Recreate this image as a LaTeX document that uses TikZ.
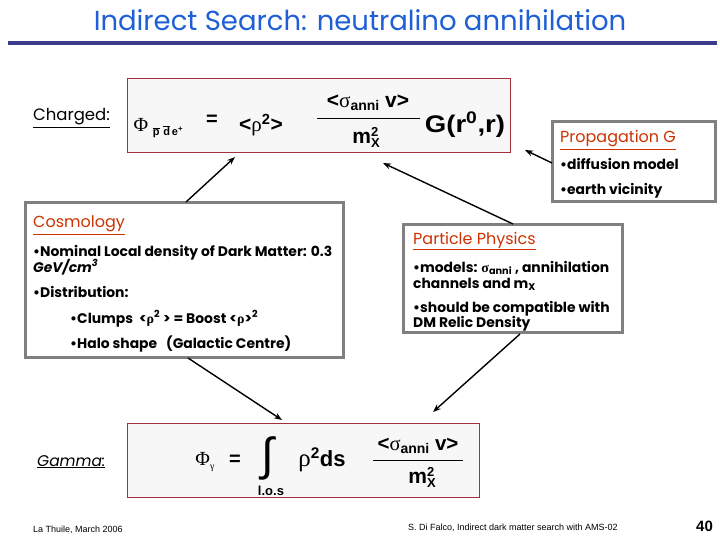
\documentclass[tikz,border=0pt]{standalone}
\usepackage{fontspec}
\usetikzlibrary{arrows.meta}
\setmainfont{Poppins}
\newfontfamily\fa{Liberation Sans}
\newfontfamily\fg{Liberation Serif}
\definecolor{titleblue}{RGB}{30,95,215}
\definecolor{rulecol}{RGB}{60,60,140}
\definecolor{headred}{RGB}{204,51,0}
\definecolor{fred}{RGB}{160,50,60}
\definecolor{boxgray}{RGB}{128,128,128}
\newcommand{\fs}[1]{\fontsize{#1}{#1}\selectfont}
\begin{document}
\begin{tikzpicture}[x=1pt,y=-1pt,
  txt/.style={anchor=base west,inner sep=0pt,font=\bfseries\fs{13.9}},
  head/.style={anchor=base west,inner sep=0pt,text=headred,font=\fs{16}},
  gbox/.style={draw=boxgray,line width=3pt,fill=white,inner sep=0pt},
  fbox/.style={draw=fred,line width=0.8pt,fill=black!3,inner sep=0pt},
  fm/.style={inner sep=0pt,font=\fa\bfseries\fs{20}},
  arr/.style={-{Stealth[length=8pt,width=6pt]},line width=1.4pt}]
\useasboundingbox (0,0) rectangle (720,540);
\fill[white] (0,0) rectangle (720,540);
% title
\node[inner sep=0pt,text=titleblue,font=\fs{27.5}] (title) at (360,20) {Indirect Search: neutralino annihilation};
\draw[rulecol,line width=4pt] (8,43) -- (717,43);
% boxes
\node[fbox,minimum width=383pt,minimum height=74pt] (chg) at (318.5,115) {};
\node[gbox,minimum width=163pt,minimum height=80pt] (prop) at (633.5,162) {};
\node[gbox,minimum width=318pt,minimum height=154pt] (cosmo) at (184,280) {};
\node[gbox,minimum width=219pt,minimum height=107pt] (part) at (512.5,278.5) {};
\node[fbox,minimum width=352pt,minimum height=74pt] (gam) at (303,460) {};
% labels
\node[anchor=base west,inner sep=0pt,font=\fs{16.5}] (lchg) at (33,121) {\underline{Charged:}};
\node[anchor=base west,inner sep=0pt,font=\itshape\fs{15.5}] (lgam) at (37,466) {\underline{Gamma:}};
% charged formula
\node[inner sep=0pt,font=\fg\fs{20}] (phi1) at (141,125) {Φ};
\node[inner sep=0pt,font=\fa\bfseries\fs{11}] (sub1) at (168,132) {$\overline{\hbox{p}}$\,\,$\overline{\hbox{d}}$\,e\textsuperscript{+}};
\node[fm] (eq1) at (212,120) {=};
\node[fm,font=\fa\bfseries\fs{21}] (rho1) at (261,125) {<{\fg\mdseries ρ}\textsuperscript{2}>};
\node[fm,font=\fa\bfseries\fs{21}] (num1) at (368,103) {<{\fg\mdseries σ}\raisebox{-3pt}{\fs{14}anni} v>};
\node[fm,font=\fa\bfseries\fs{21}] (den1) at (366,137) {m\rlap{\raisebox{7pt}{\fs{13}2}}\raisebox{-4pt}{\fs{13}X}};
\node[fm,font=\fa\bfseries\fs{24}] (g1) at (465,125) {\scalebox{1.15}[1]{G(r\textsuperscript{0},r)}};
\draw[line width=1pt] (317,119) -- (420,119);
% gamma formula
\node[inner sep=0pt,font=\fg\fs{20}] (phi2) at (205,462) {Φ\raisebox{-4pt}{\fs{10}γ}};
\node[fm] (eq2) at (235,460) {=};
\node[inner sep=0pt,font=\fa\fs{46}] (int2) at (268,458) {∫};
\node[fm,font=\fa\bfseries\fs{13}] (los) at (271,491) {l.o.s};
\node[fm,font=\fa\bfseries\fs{22}] (rho2) at (322,460) {{\fg\mdseries\fs{25}ρ}\textsuperscript{2}ds};
\node[fm,font=\fa\bfseries\fs{20.5}] (num2) at (418,446) {<{\fg\mdseries σ}\raisebox{-3pt}{\fs{14}anni} v>};
\draw[line width=1pt] (373,460) -- (463,460);
\node[fm,font=\fa\bfseries\fs{21}] (den2) at (422,477) {m\rlap{\raisebox{7pt}{\fs{13}2}}\raisebox{-4pt}{\fs{13}X}};
% propagation
\node[head] (hprop) at (560,143) {\underline{Propagation G}};
\node[txt] (p1) at (560,170) {•diffusion model};
\node[txt] (p2) at (560,195) {•earth vicinity};
% cosmology
\node[head] (hcos) at (33,228) {\underline{Cosmology}};
\node[txt] (c1) at (33,256) {•Nominal Local density of Dark Matter: 0.3};
\node[txt] (c2) at (33,272) {\itshape GeV/cm\textsuperscript{3}};
\node[txt] (c3) at (33,297) {•Distribution:};
\node[txt] (c4) at (70,323) {•Clumps\ \ <{\fg ρ}\textsuperscript{2} > = Boost <{\fg ρ}>\textsuperscript{2}};
\node[txt] (c5) at (70,348) {•Halo shape};
\node[txt] (c6) at (166,348) {(Galactic Centre)};
% particle physics
\node[head] (hpart) at (413,244) {\underline{Particle Physics}};
\node[txt] (q1) at (413,272) {•models: {\fg\bfseries σ}\textsubscript{anni} , annihilation};
\node[txt] (q2) at (413,288) {channels and m\textsubscript{X}};
\node[txt] (q3) at (413,312) {•should be compatible with};
\node[txt] (q4) at (413,327) {DM Relic Density};
% footer
\node[anchor=west,inner sep=0pt,font=\fa\fs{9}] (f1) at (33,530) {La Thuile, March 2006};
\node[anchor=west,inner sep=0pt,font=\fa\fs{9}] (f2) at (408,528) {S. Di Falco, Indirect dark matter search with AMS-02};
\node[anchor=west,inner sep=0pt,font=\fa\bfseries\fs{15}] (f3) at (696,526) {40};
% arrows
\coordinate (a1s) at (186,202); \coordinate (a1e) at (235,157);
\coordinate (a2s) at (513,224); \coordinate (a2e) at (383,163);
\coordinate (a3s) at (552,163); \coordinate (a3e) at (525,150);
\coordinate (a4s) at (188,358); \coordinate (a4e) at (282,420);
\coordinate (a5s) at (520,334); \coordinate (a5e) at (433,412);
\draw[arr] (a1s) -- (a1e);
\draw[arr] (a2s) -- (a2e);
\draw[arr] (a3s) -- (a3e);
\draw[arr] (a4s) -- (a4e);
\draw[arr] (a5s) -- (a5e);
\end{tikzpicture}
\end{document}
